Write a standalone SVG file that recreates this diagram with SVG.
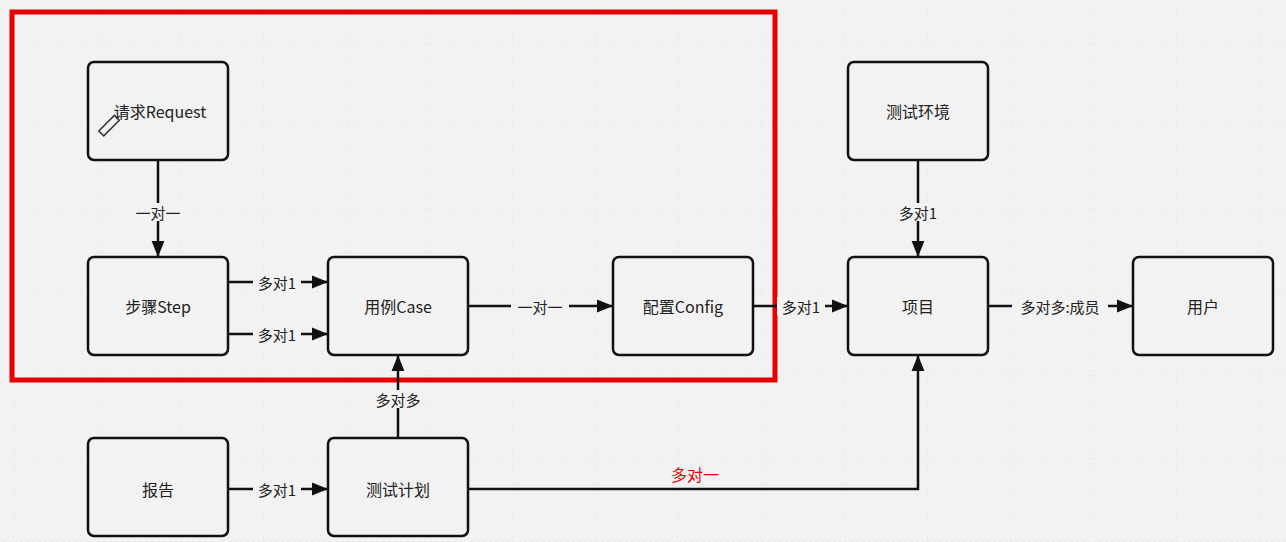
<svg xmlns="http://www.w3.org/2000/svg" width="1286" height="542" viewBox="0 0 1286 542">
<defs>
<pattern id="grid" x="14" y="43" width="83" height="83" patternUnits="userSpaceOnUse">
<path d="M0 0H83M0 0V83" fill="none" stroke="#e2e2e2" stroke-width="1" stroke-dasharray="3 3"/>
</pattern>
<marker id="ah" viewBox="0 0 10 10" refX="10" refY="5" markerWidth="16" markerHeight="16" markerUnits="userSpaceOnUse" orient="auto">
<path d="M0 1L10 5L0 9Z" fill="#111"/>
</marker>
</defs>
<style>
.n{fill:#f2f2f2;stroke:#111;stroke-width:2.5}
.t{font-family:"Noto Sans CJK SC","Liberation Sans",sans-serif;font-size:16px;fill:#222;text-anchor:middle;dominant-baseline:central}
.l{font-family:"Noto Sans CJK SC","Liberation Sans",sans-serif;font-size:15px;fill:#222;text-anchor:middle;dominant-baseline:central}
.e{fill:none;stroke:#111;stroke-width:2.5}
.bg{fill:#f2f2f2}
</style>
<rect width="1286" height="542" fill="#f2f2f2"/>
<rect width="1286" height="542" fill="url(#grid)"/>
<rect x="12" y="12" width="763" height="368" fill="none" stroke="#e60000" stroke-width="5"/>
<g id="connectors">
<path class="e" d="M158 160V257" marker-end="url(#ah)"/>
<rect class="bg" x="128" y="203" width="60" height="18"/><text class="l" x="158" y="212">一对一</text>
<path class="e" d="M228 282H328" marker-end="url(#ah)"/>
<rect class="bg" x="253" y="273" width="48" height="18"/><text class="l" x="277" y="282">多对1</text>
<path class="e" d="M228 334H328" marker-end="url(#ah)"/>
<rect class="bg" x="253" y="325" width="48" height="18"/><text class="l" x="277" y="334">多对1</text>
<path class="e" d="M468 306H613" marker-end="url(#ah)"/>
<rect class="bg" x="511" y="297" width="58" height="18"/><text class="l" x="540" y="306">一对一</text>
<path class="e" d="M753 306H848" marker-end="url(#ah)"/>
<rect class="bg" x="777" y="297" width="48" height="18"/><text class="l" x="801" y="306">多对1</text>
<path class="e" d="M918 160V257" marker-end="url(#ah)"/>
<rect class="bg" x="894" y="203" width="48" height="18"/><text class="l" x="918" y="212">多对1</text>
<path class="e" d="M988 306H1133" marker-end="url(#ah)"/>
<rect class="bg" x="1012" y="297" width="96" height="18"/><text class="l" x="1060" y="306">多对多:成员</text>
<path class="e" d="M228 489H328" marker-end="url(#ah)"/>
<rect class="bg" x="253" y="480" width="48" height="18"/><text class="l" x="277" y="489">多对1</text>
<path class="e" d="M398 438V355" marker-end="url(#ah)"/>
<rect class="bg" x="370" y="390" width="56" height="18"/><text class="l" x="398" y="399">多对多</text>
<path class="e" d="M468 489H918V355" marker-end="url(#ah)"/>
<text class="l" x="695" y="474" style="fill:#e60000;font-size:16px">多对一</text>
</g>
<g id="request"><rect class="n" x="88" y="62" width="140" height="98" rx="6"/><text class="t" x="160" y="111">请求Request</text>
<g transform="translate(108 126) rotate(45)"><rect x="-3" y="-12" width="7" height="22" fill="none" stroke="#333" stroke-width="1.5"/></g></g>
<g id="step"><rect class="n" x="88" y="257" width="140" height="98" rx="6"/><text class="t" x="158" y="306">步骤Step</text></g>
<g id="case"><rect class="n" x="328" y="257" width="140" height="98" rx="6"/><text class="t" x="398" y="306">用例Case</text></g>
<g id="config"><rect class="n" x="613" y="257" width="140" height="98" rx="6"/><text class="t" x="683" y="306">配置Config</text></g>
<g id="env"><rect class="n" x="848" y="62" width="140" height="98" rx="6"/><text class="t" x="918" y="111">测试环境</text></g>
<g id="project"><rect class="n" x="848" y="257" width="140" height="98" rx="6"/><text class="t" x="918" y="306">项目</text></g>
<g id="user"><rect class="n" x="1133" y="257" width="140" height="98" rx="6"/><text class="t" x="1203" y="306">用户</text></g>
<g id="report"><rect class="n" x="88" y="438" width="140" height="98" rx="6"/><text class="t" x="158" y="489">报告</text></g>
<g id="plan"><rect class="n" x="328" y="438" width="140" height="98" rx="6"/><text class="t" x="398" y="489">测试计划</text></g>
</svg>
